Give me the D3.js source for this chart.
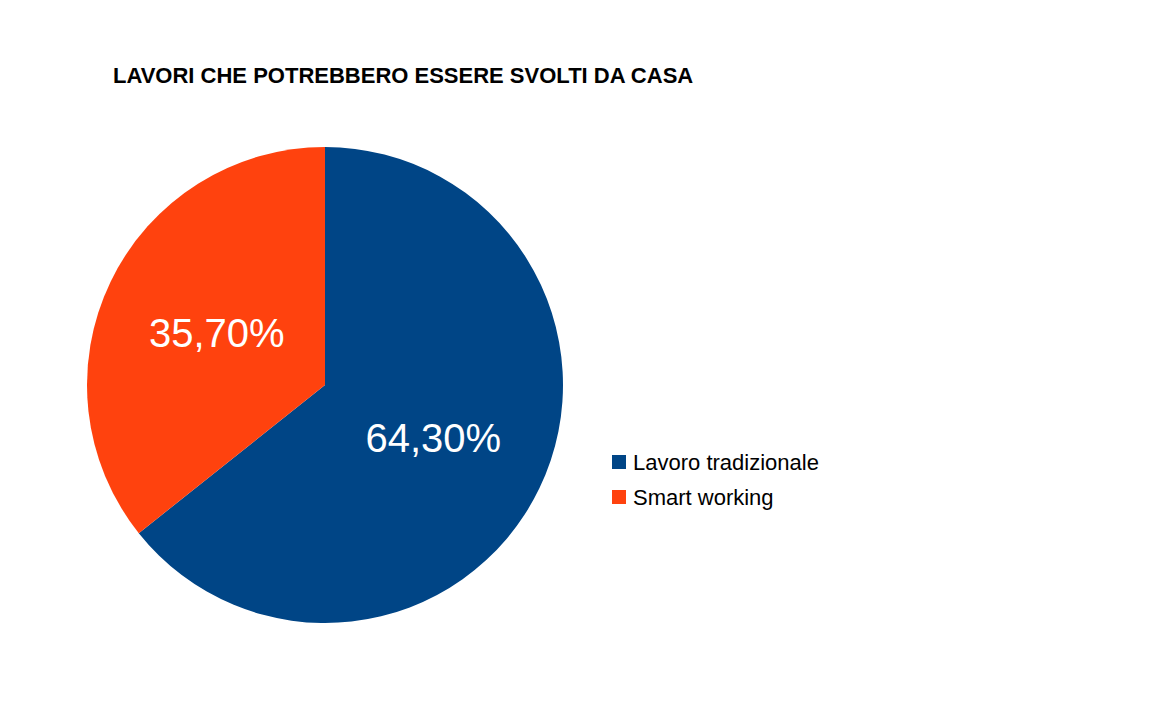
<!DOCTYPE html>
<html>
<head>
<meta charset="utf-8">
<script src="https://cdn.jsdelivr.net/npm/d3@7"></script>
<style>
  body { margin: 0; background: #fff; }
  text { font-family: "Liberation Sans", Arial, sans-serif; }
</style>
</head>
<body>
<div id="chart"></div>
<script>
'use strict'

const categories = ['Lavoro tradizionale', 'Smart working']
const values = [64.3, 35.7]
const valueLabels = ['64,30%', '35,70%']
const colors = ['#004586', '#ff420e']

const width = 1152
const height = 720
const cx = 325
const cy = 385
const radius = 238

const svg = d3.select('#chart')
  .append('svg')
  .attr('width', width)
  .attr('height', height)

svg.append('text')
  .attr('x', 113)
  .attr('y', 83)
  .attr('font-size', 22)
  .attr('font-weight', 'bold')
  .text('LAVORI CHE POTREBBERO ESSERE SVOLTI DA CASA')

const data = categories.map((c, i) => ({ label: c, value: values[i], text: valueLabels[i], color: colors[i] }))

const pie = d3.pie().value(d => d.value).sort(null)
const arc = d3.arc().innerRadius(0).outerRadius(radius)
const labelArc = d3.arc().innerRadius(radius * 0.505).outerRadius(radius * 0.505)

const g = svg.append('g')
  .attr('transform', 'translate(' + cx + ',' + cy + ')')

g.selectAll('path')
  .data(pie(data))
  .enter()
  .append('path')
  .attr('d', arc)
  .attr('fill', d => d.data.color)

g.selectAll('text.lbl')
  .data(pie(data))
  .enter()
  .append('text')
  .attr('class', 'lbl')
  .attr('transform', d => 'translate(' + labelArc.centroid(d) + ')')
  .attr('text-anchor', 'middle')
  .attr('dy', '0.36em')
  .attr('font-size', 40)
  .attr('fill', '#fff')
  .text(d => d.data.text)

const legend = svg.append('g')
  .attr('transform', 'translate(612,455)')

const item = legend.selectAll('g')
  .data(data)
  .enter()
  .append('g')
  .attr('transform', (d, i) => 'translate(0,' + i * 35 + ')')

item.append('rect')
  .attr('width', 14)
  .attr('height', 14)
  .attr('fill', d => d.color)

item.append('text')
  .attr('x', 21)
  .attr('y', 15)
  .attr('font-size', 22)
  .attr('fill', '#000')
  .text(d => d.label)
</script>
</body>
</html>
